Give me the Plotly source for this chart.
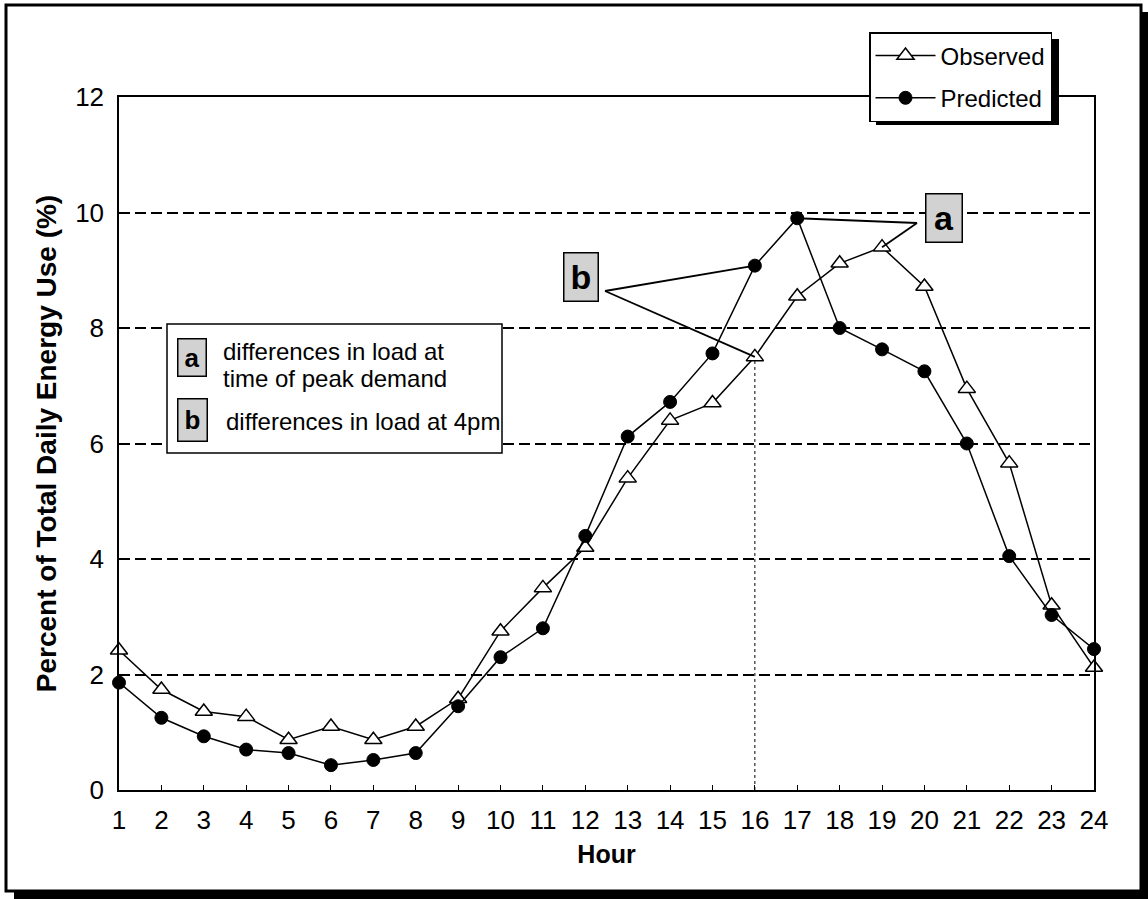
import plotly.graph_objects as go

# ---------------- data ----------------
hours = list(range(1, 25))
observed = [2.42, 1.74, 1.36, 1.27, 0.87, 1.10, 0.87, 1.10, 1.58, 2.75, 3.50, 4.20,
            5.40, 6.40, 6.70, 7.50, 8.55, 9.12, 9.40, 8.72, 6.95, 5.66, 3.20, 2.12]
predicted = [1.86, 1.25, 0.93, 0.70, 0.64, 0.43, 0.52, 0.64, 1.45, 2.30, 2.80, 4.40,
             6.12, 6.72, 7.56, 9.08, 9.90, 8.00, 7.63, 7.25, 6.00, 4.05, 3.03, 2.44]
y_ticks = [0, 2, 4, 6, 8, 10, 12]
series_names = ["Observed", "Predicted"]
inset_lines = ["differences in load at", "time of peak demand", "differences in load at 4pm"]

# ---------------- geometry helpers (page px -> paper / data) ----------------
W, H = 1148, 899
L, R, T, B = 119, 54, 97, 109
PW, PH = W - L - R, H - T - B


def xp(px):
    return (px - L) / PW


def yp(py):
    return (H - B - py) / PH


def xd(px):
    return 1 + (px - L) / PW * 23


def yd(py):
    return (H - B - py) / PH * 12


FONT = "Liberation Sans, Arial, sans-serif"

fig = go.Figure()
fig.add_trace(go.Scatter(
    x=hours, y=observed, name=series_names[0], mode="lines+markers",
    line=dict(color="black", width=1.5),
    marker=dict(symbol="triangle-up", size=15, color="white", line=dict(color="black", width=1.5)),
    cliponaxis=False, legendgroup="o"))
fig.add_trace(go.Scatter(
    x=hours, y=predicted, name=series_names[1], mode="lines+markers",
    line=dict(color="black", width=1.5),
    marker=dict(symbol="circle", size=13, color="black", line=dict(color="black", width=1)),
    cliponaxis=False, legendgroup="p"))

shapes = []
# vertical dotted line at hour 16
shapes.append(dict(type="line", xref="x", yref="y", x0=16, x1=16, y0=0, y1=observed[15],
                   line=dict(color="black", width=1, dash="dot"), layer="below"))
# pointer lines for "a"
ax_, ay_ = xd(917), yd(223)
shapes.append(dict(type="line", xref="x", yref="y", x0=ax_, y0=ay_, x1=17, y1=predicted[16],
                   line=dict(color="black", width=1.8)))
shapes.append(dict(type="line", xref="x", yref="y", x0=ax_, y0=ay_, x1=19, y1=observed[18],
                   line=dict(color="black", width=1.8)))
# pointer lines for "b"
bx_, by_ = xd(605), yd(291)
shapes.append(dict(type="line", xref="x", yref="y", x0=bx_, y0=by_, x1=16, y1=predicted[15],
                   line=dict(color="black", width=1.8)))
shapes.append(dict(type="line", xref="x", yref="y", x0=bx_, y0=by_, x1=16, y1=observed[15],
                   line=dict(color="black", width=1.8)))
# inset key box
shapes.append(dict(type="rect", xref="paper", yref="paper", x0=xp(167), x1=xp(502), y0=yp(453), y1=yp(324),
                   fillcolor="white", line=dict(color="black", width=1.5), layer="above"))
# legend shadow
shapes.append(dict(type="rect", xref="paper", yref="paper", x0=xp(876), x1=xp(1059), y0=yp(125), y1=yp(39),
                   fillcolor="black", line=dict(width=0), layer="above"))
# outer frame + shadow
shapes.append(dict(type="rect", xref="paper", yref="paper", x0=xp(6), x1=xp(1141), y0=yp(891), y1=yp(5),
                   fillcolor="rgba(0,0,0,0)", line=dict(color="black", width=3), layer="above"))
shapes.append(dict(type="rect", xref="paper", yref="paper", x0=xp(1141), x1=xp(1148), y0=yp(899), y1=yp(12),
                   fillcolor="black", line=dict(width=0), layer="above"))
shapes.append(dict(type="rect", xref="paper", yref="paper", x0=xp(14), x1=xp(1148), y0=yp(899), y1=yp(891),
                   fillcolor="black", line=dict(width=0), layer="above"))

annotations = []
BOXFILL = "#d2d2d2"
# big label boxes
annotations.append(dict(xref="x", yref="y", x=xd(944), y=yd(218), text="<b>a</b>", showarrow=False,
                        xanchor="center", yanchor="middle",
                        font=dict(family=FONT, size=34, color="black"), bgcolor=BOXFILL,
                        bordercolor="black", borderwidth=1.5, borderpad=0, width=35, height=47))
annotations.append(dict(xref="x", yref="y", x=xd(581), y=yd(277), text="<b>b</b>", showarrow=False,
                        xanchor="center", yanchor="middle",
                        font=dict(family=FONT, size=34, color="black"), bgcolor=BOXFILL,
                        bordercolor="black", borderwidth=1.5, borderpad=0, width=33, height=47))
# small boxes in the key
annotations.append(dict(xref="paper", yref="paper", x=xp(192), y=yp(357), text="<b>a</b>", showarrow=False,
                        xanchor="center", yanchor="middle",
                        font=dict(family=FONT, size=26, color="black"), bgcolor=BOXFILL,
                        bordercolor="black", borderwidth=1.5, borderpad=0, width=27, height=36))
annotations.append(dict(xref="paper", yref="paper", x=xp(192.5), y=yp(420), text="<b>b</b>", showarrow=False,
                        xanchor="center", yanchor="middle",
                        font=dict(family=FONT, size=26, color="black"), bgcolor=BOXFILL,
                        bordercolor="black", borderwidth=1.5, borderpad=0, width=28, height=41))
# key texts
for txt, px0, py0 in zip(inset_lines, [221, 221, 224], [351, 378, 421]):
    annotations.append(dict(xref="paper", yref="paper", x=xp(px0), y=yp(py0), text=txt, showarrow=False,
                            xanchor="left", yanchor="middle",
                            font=dict(family=FONT, size=24, color="black")))

fig.update_layout(
    width=W, height=H,
    margin=dict(l=L, r=R, t=T, b=B, pad=0),
    paper_bgcolor="white", plot_bgcolor="white",
    font=dict(family=FONT, color="black"),
    showlegend=True,
    legend=dict(x=xp(869), y=yp(32), xanchor="left", yanchor="top",
                bgcolor="white", bordercolor="black", borderwidth=1.5,
                font=dict(family=FONT, size=24, color="black"),
                itemwidth=60, tracegroupgap=8),
    shapes=shapes,
    annotations=annotations,
    xaxis=dict(range=[1, 24], tickmode="array", tickvals=hours, ticktext=[str(h) for h in hours],
               showline=True, linecolor="black", linewidth=1.5, mirror=True,
               ticks="inside", ticklen=5, tickcolor="black", tickwidth=1,
               showgrid=False, zeroline=False, ticklabelstandoff=6,
               tickfont=dict(family=FONT, size=26, color="black"),
               title=dict(text="<b>Hour</b>", font=dict(family=FONT, size=25, color="black"), standoff=12)),
    yaxis=dict(range=[0, 12], tickmode="array", tickvals=y_ticks, ticktext=[str(v) for v in y_ticks],
               showline=True, linecolor="black", linewidth=1.5, mirror=True,
               ticks="", showgrid=True, gridcolor="black", gridwidth=1.5, griddash="11px,5px",
               zeroline=False, ticklabelstandoff=8,
               tickfont=dict(family=FONT, size=26, color="black"),
               title=dict(text="<b>Percent of Total Daily Energy Use (%)</b>",
                          font=dict(family=FONT, size=28, color="black"), standoff=10)),
)

fig.write_html("out.html")
